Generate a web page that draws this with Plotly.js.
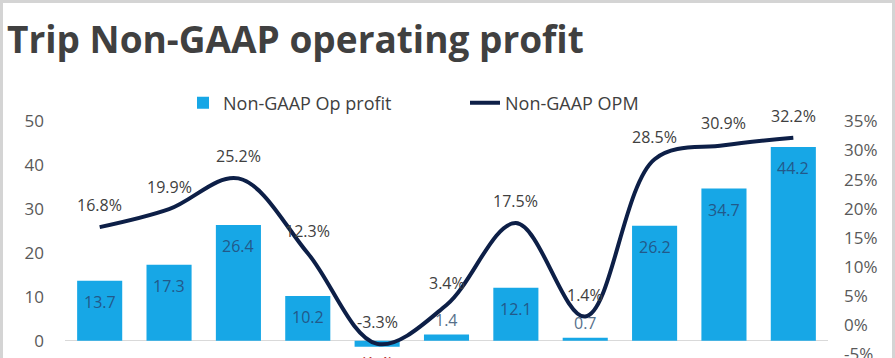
<!DOCTYPE html>
<html>
<head>
<meta charset="utf-8">
<script src="https://cdn.plot.ly/plotly-3.0.1.min.js"></script>
<style>
  html, body { margin: 0; padding: 0; background: #fff; }
  #wrap { position: relative; width: 895px; height: 358px; overflow: hidden; }
  #chart { width: 895px; height: 358px; }
  #frame { position: absolute; left: 0; top: 0; width: 895px; height: 370px; box-sizing: border-box;
           border: 3px solid #d4d4d4; pointer-events: none; }
</style>
</head>
<body>
<div id="wrap">
  <div id="chart"></div>
  <div id="frame"></div>
</div>
<script>
// Data
const categories = ['1Q19', '2Q19', '3Q19', '4Q19', '1Q22', '2Q22', '3Q22', '4Q22', '1Q23', '2Q23', '3Q23'];
const opProfit   = [13.7, 17.3, 26.4, 10.2, -1.4, 1.4, 12.1, 0.7, 26.2, 34.7, 44.2];
const opm        = [16.8, 19.9, 25.2, 12.3, -3.3, 3.4, 17.5, 1.4, 28.5, 30.9, 32.2];
const leftTicks  = [0, 10, 20, 30, 40, 50];
const rightTicks = [-5, 0, 5, 10, 15, 20, 25, 30, 35];
const rightTickText = rightTicks.map(v => v + '%');

const BAR = '#17a7e6';
const LINE = '#0d1f47';
const FONT = 'Open Sans, Noto Sans, sans-serif';

const traces = [
  {
    type: 'bar', name: 'Non-GAAP Op profit',
    x: categories, y: opProfit,
    marker: { color: BAR },
    hoverinfo: 'skip'
  },
  {
    type: 'scatter', mode: 'lines', name: 'Non-GAAP OPM',
    x: categories, y: opm, yaxis: 'y2',
    line: { color: LINE, width: 4, shape: 'spline', smoothing: 1 },
    hoverinfo: 'skip'
  }
];

const annotations = [];
opProfit.forEach((v, i) => {
  let a = { x: categories[i], y: v, xref: 'x', yref: 'y', showarrow: false,
            font: { family: FONT, size: 16, color: '#22598a' } };
  if (v < 0) {
    a.text = '(' + Math.abs(v).toFixed(1) + ')';
    a.yanchor = 'top'; a.yshift = -3; a.font.color = '#b5352c';
  } else if (v < 3) {
    a.text = v.toFixed(1);
    a.yanchor = 'bottom'; a.yshift = 2; a.font.color = '#56708a';
  } else {
    a.text = v.toFixed(1);
    a.yanchor = 'top'; a.yshift = -8;
  }
  annotations.push(a);
});
opm.forEach((v, i) => {
  annotations.push({ x: categories[i], y: v, xref: 'x', yref: 'y2', showarrow: false,
    text: v.toFixed(1) + '%', yanchor: 'bottom', yshift: 9,
    font: { family: FONT, size: 16, color: '#404040' } });
});
// lowest right-axis tick label (Plotly drops it because it overflows the figure)
annotations.push({ x: 1, xref: 'paper', y: rightTicks[0], yref: 'y2', xanchor: 'left', xshift: 14,
  yanchor: 'middle', showarrow: false, text: rightTickText[0],
  font: { family: FONT, size: 17, color: '#595959' } });

const layout = {
  width: 895, height: 358,
  margin: { l: 65, r: 67, t: 107, b: 4 },
  paper_bgcolor: '#ffffff', plot_bgcolor: '#ffffff',
  font: { family: FONT, color: '#595959' },
  title: {
    text: 'Trip Non-GAAP operating profit',
    x: 7 / 895, xanchor: 'left', xref: 'container',
    y: 1 - 40 / 358, yanchor: 'middle', yref: 'container',
    font: { family: FONT, size: 37, weight: 'bold', color: '#404040' }
  },
  bargap: 0.35,
  showlegend: true,
  legend: {
    orientation: 'h', xref: 'container', yref: 'container',
    x: 183 / 895, xanchor: 'left', y: 1 - 103 / 358, yanchor: 'middle',
    font: { family: FONT, size: 18, color: '#404040' },
    bgcolor: 'rgba(0,0,0,0)', traceorder: 'normal',
    entrywidth: 237, entrywidthmode: 'pixels'
  },
  xaxis: {
    type: 'category', categoryarray: categories, categoryorder: 'array',
    range: [-0.5, categories.length - 0.5],
    showticklabels: false, showgrid: false, zeroline: false, showline: false, ticks: ''
  },
  yaxis: {
    range: [-3.03, 50], tickvals: leftTicks, showgrid: false,
    zeroline: true, zerolinecolor: '#d9d9d9', zerolinewidth: 1.5,
    showline: false, ticks: '', ticklabelstandoff: 20,
    tickfont: { family: FONT, size: 17, color: '#595959' }
  },
  yaxis2: {
    overlaying: 'y', side: 'right', anchor: 'x',
    range: [-5.05, 35], tickvals: rightTicks.slice(1), ticktext: rightTickText.slice(1), tickmode: 'array',
    showgrid: false, zeroline: false, showline: false, ticks: '', ticklabelstandoff: 15,
    tickfont: { family: FONT, size: 17, color: '#595959' }
  },
  annotations: annotations
};

Plotly.newPlot('chart', traces, layout, { displayModeBar: false, staticPlot: true });
</script>
</body>
</html>
